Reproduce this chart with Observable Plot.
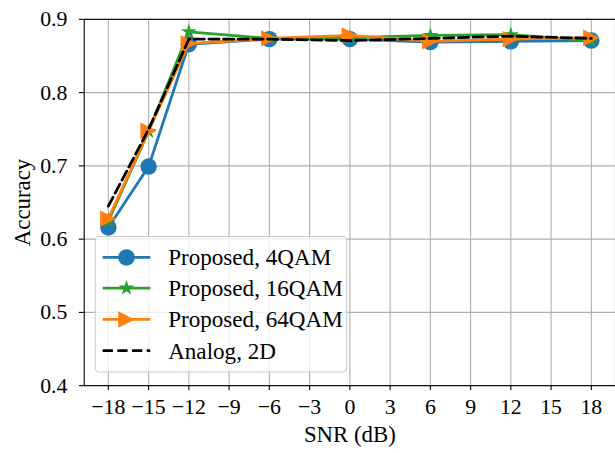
<!DOCTYPE html>
<html>
<head>
<meta charset="utf-8">
<script src="https://cdn.jsdelivr.net/npm/d3@7"></script>
<script src="https://cdn.jsdelivr.net/npm/@observablehq/plot@0.6"></script>
<style>
  html, body { margin: 0; padding: 0; background: white; overflow: hidden; }
  #chart { position: relative; width: 615px; height: 453px; overflow: hidden; }
</style>
</head>
<body>
<div id="chart"></div>
<script>
// ---- data ----
const snr = [-18, -15, -12, -6, 0, 6, 12, 18];
const acc4QAM  = [0.616, 0.699, 0.866, 0.873, 0.873, 0.869, 0.870, 0.871];
const acc16QAM = [0.625, 0.747, 0.883, 0.874, 0.875, 0.878, 0.879, 0.871];
const acc64QAM = [0.628, 0.748, 0.867, 0.874, 0.878, 0.870, 0.873, 0.875];
const accAnalog = [0.645, 0.750, 0.873, 0.873, 0.871, 0.874, 0.877, 0.874];
const seriesNames = ["Proposed, 4QAM", "Proposed, 16QAM", "Proposed, 64QAM", "Analog, 2D"];
const xTicks = [-18, -15, -12, -9, -6, -3, 0, 3, 6, 9, 12, 15, 18];
const yTicks = [0.4, 0.5, 0.6, 0.7, 0.8, 0.9];
const xLabel = "SNR (dB)";
const yLabel = "Accuracy";

const colors = ["#1f77b4", "#2ca02c", "#ff7f0e", "#000000"];
const toRows = (vals) => snr.map((x, i) => ({x, y: vals[i]}));
const d4 = toRows(acc4QAM), d16 = toRows(acc16QAM), d64 = toRows(acc64QAM), dA = toRows(accAnalog);

// custom marker symbols (matplotlib-like)
const circleSym = {draw(ctx, size) { const r = Math.sqrt(size / Math.PI); ctx.moveTo(r, 0); ctx.arc(0, 0, r, 0, 2 * Math.PI); }};
const triRightSym = {draw(ctx, size) { const r = Math.sqrt(size / Math.PI); ctx.moveTo(r, 0); ctx.lineTo(-r, r); ctx.lineTo(-r, -r); ctx.closePath(); }};
const starSym = {draw(ctx, size) {
  const R = Math.sqrt(size / Math.PI), ri = R * 0.381966;
  for (let i = 0; i < 10; i++) {
    const a = -Math.PI / 2 + i * Math.PI / 5;
    const rr = i % 2 === 0 ? R : ri;
    const px = rr * Math.cos(a), py = rr * Math.sin(a);
    if (i === 0) ctx.moveTo(px, py); else ctx.lineTo(px, py);
  }
  ctx.closePath();
}};

const LW = 2.8;
const font = "'Liberation Serif', 'Times New Roman', serif";

const plot = Plot.plot({
  width: 620,
  height: 453,
  marginLeft: 84.4,
  marginRight: 0,
  marginTop: 19,
  marginBottom: 64.7,
  style: {fontFamily: font, fontSize: "22px", background: "white", color: "black", overflow: "visible"},
  x: {domain: [-19.8, 19.8]},
  y: {domain: [0.4, 0.9]},
  marks: [
    Plot.gridX(xTicks, {stroke: "#b0b0b0", strokeOpacity: 1, strokeWidth: 1.1}),
    Plot.gridY(yTicks, {stroke: "#b0b0b0", strokeOpacity: 1, strokeWidth: 1.1}),
    Plot.axisX(xTicks, {tickSize: 4.9, tickPadding: 8, strokeWidth: 1.1, fontSize: 22, tickFormat: d3.format("d"), label: null}),
    Plot.axisY(yTicks, {tickSize: 4.9, tickPadding: 12, strokeWidth: 1.1, fontSize: 22, tickFormat: d3.format(".1f"), label: null}),
    Plot.frame({stroke: "black", strokeWidth: 1.1}),
    Plot.line(d4, {x: "x", y: "y", stroke: colors[0], strokeWidth: LW}),
    Plot.dot(d4, {x: "x", y: "y", fill: colors[0], stroke: null, symbol: circleSym, r: 8.3}),
    Plot.line(d16, {x: "x", y: "y", stroke: colors[1], strokeWidth: LW}),
    Plot.dot(d16, {x: "x", y: "y", fill: colors[1], stroke: null, symbol: starSym, r: 8.3}),
    Plot.line(d64, {x: "x", y: "y", stroke: colors[2], strokeWidth: LW}),
    Plot.dot(d64, {x: "x", y: "y", fill: colors[2], stroke: null, symbol: triRightSym, r: 8.3}),
    Plot.line(dA, {x: "x", y: "y", stroke: colors[3], strokeWidth: LW, strokeDasharray: "10.3,4.5"}),
    Plot.text([xLabel], {frameAnchor: "bottom", dy: 57, fontSize: 23, fill: "black", textAnchor: "middle"}),
    Plot.text([yLabel], {frameAnchor: "left", dx: -62, rotate: -90, fontSize: 23, fill: "black", textAnchor: "middle", lineAnchor: "middle"})
  ]
});

document.getElementById("chart").appendChild(plot);

// ---- legend (drawn into the same SVG) ----
const svg = d3.select(plot);
const lg = svg.append("g").attr("font-family", font).attr("font-size", 23.3).attr("text-anchor", "start");
lg.append("rect").attr("x", 96).attr("y", 238.5).attr("width", 253.5).attr("height", 136.5)
  .attr("rx", 4).attr("fill", "white").attr("fill-opacity", 0.8).attr("stroke", "#cccccc").attr("stroke-width", 1.1);
const syms = [circleSym, starSym, triRightSym, null];
const rowY = [259.5, 290.5, 322, 353.5];
seriesNames.forEach((name, i) => {
  const y = rowY[i];
  lg.append("line").attr("x1", 103.5).attr("x2", 151.5).attr("y1", y).attr("y2", y)
    .attr("stroke", colors[i]).attr("stroke-width", LW)
    .attr("stroke-dasharray", i === 3 ? "10.3,4.5" : null);
  if (syms[i]) {
    lg.append("path").attr("transform", `translate(127.5,${y})`)
      .attr("d", d3.symbol(syms[i], 8.3 * 8.3 * Math.PI)()).attr("fill", colors[i]);
  }
  lg.append("text").attr("x", 169.5).attr("y", y).attr("dy", "0.35em").attr("fill", "black")
    .attr("text-anchor", "start").text(name);
});
</script>
</body>
</html>
